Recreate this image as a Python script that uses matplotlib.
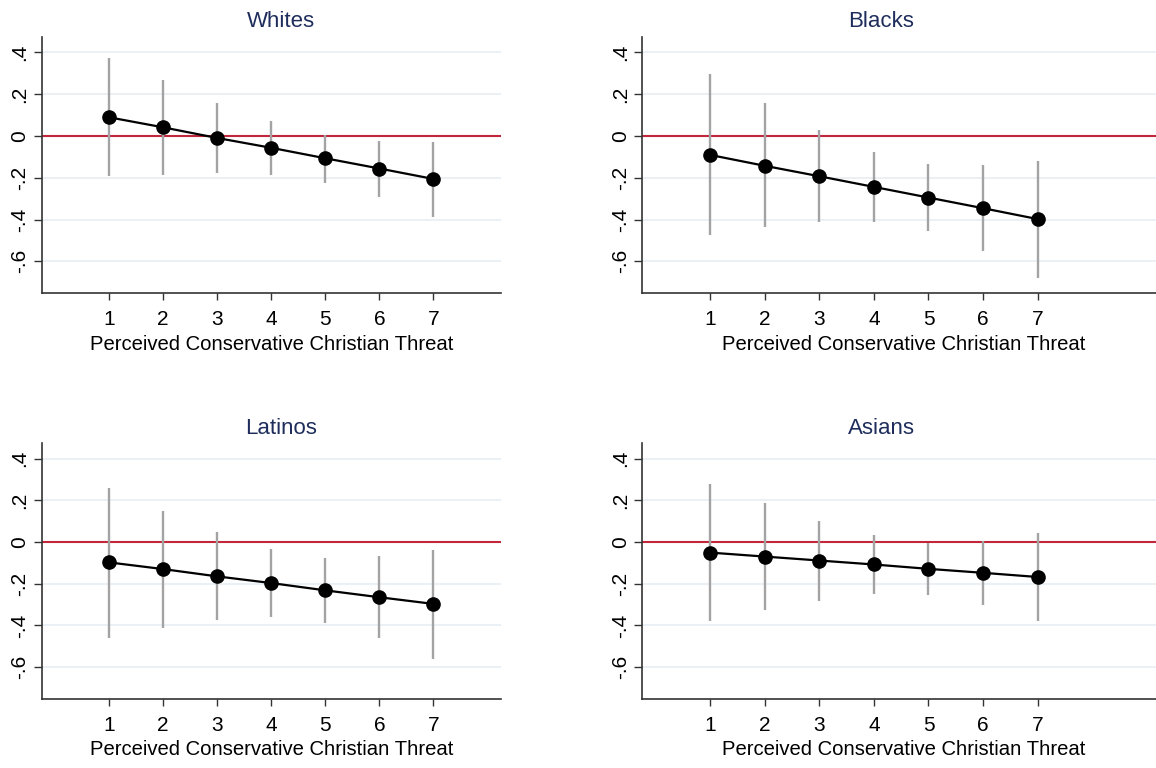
import numpy as np
import matplotlib.pyplot as plt

plt.rcParams['font.family'] = ['Liberation Sans', 'DejaVu Sans']

threat = [1, 2, 3, 4, 5, 6, 7]
groups = ['Whites', 'Blacks', 'Latinos', 'Asians']

whites_est = [0.089, 0.041, -0.010, -0.057, -0.107, -0.156, -0.206]
whites_hi = [0.371, 0.265, 0.159, 0.069, 0.005, -0.024, -0.029]
whites_lo = [-0.194, -0.185, -0.178, -0.185, -0.223, -0.290, -0.386]

blacks_est = [-0.091, -0.143, -0.193, -0.244, -0.295, -0.346, -0.398]
blacks_hi = [0.295, 0.156, 0.029, -0.078, -0.134, -0.139, -0.118]
blacks_lo = [-0.473, -0.438, -0.414, -0.413, -0.457, -0.553, -0.680]

latinos_est = [-0.098, -0.130, -0.165, -0.197, -0.232, -0.265, -0.297]
latinos_hi = [0.260, 0.149, 0.046, -0.035, -0.075, -0.067, -0.038]
latinos_lo = [-0.459, -0.414, -0.376, -0.360, -0.387, -0.460, -0.559]

asians_est = [-0.051, -0.070, -0.089, -0.108, -0.129, -0.148, -0.168]
asians_hi = [0.279, 0.187, 0.102, 0.032, -0.003, 0.006, 0.041]
asians_lo = [-0.379, -0.327, -0.281, -0.249, -0.252, -0.303, -0.379]

yticks = [-0.6, -0.4, -0.2, 0, 0.2, 0.4]
ytick_labels = ['-.6', '-.4', '-.2', '0', '.2', '.4']

panels = [
    (whites_est, whites_lo, whites_hi),
    (blacks_est, blacks_lo, blacks_hi),
    (latinos_est, latinos_lo, latinos_hi),
    (asians_est, asians_lo, asians_hi),
]

# axes boxes in figure fractions: left, bottom, width, height
# (right-hand panels run a little past the figure edge, as in the original crop)
boxes = [
    [0.0363, 0.6181, 0.3971, 0.3337],
    [0.5556, 0.6181, 0.4522, 0.3337],
    [0.0363, 0.0898, 0.3971, 0.3330],
    [0.5556, 0.0898, 0.4522, 0.3330],
]
xmax = [8.25, 9.33, 8.25, 9.33]
title_x = [0.52, 0.457, 0.52, 0.457]

fig = plt.figure(figsize=(11.56, 7.68), dpi=100)

for i, (est, lo, hi) in enumerate(panels):
    ax = fig.add_axes(boxes[i])
    ax.set_xlim(-0.24, xmax[i])
    ax.set_ylim(-0.753, 0.473)

    for y in yticks:
        ax.axhline(y, color='#e6edf1', lw=1.2, zorder=0)
    ax.axhline(0, color='#c1263a', lw=1.5, zorder=1)

    ax.vlines(threat, lo, hi, color='#a3a3a3', lw=1.7, zorder=2)
    ax.plot(threat, est, color='black', lw=1.6, marker='o', ms=9.5, zorder=3)

    ax.set_yticks(yticks)
    ax.set_yticklabels(ytick_labels, rotation=90, va='center')
    ax.set_xticks(threat)
    ax.tick_params(axis='both', labelsize=15, width=1, color='#333333')
    ax.tick_params(axis='x', length=5, pad=7)
    ax.tick_params(axis='y', length=6, pad=3)
    ax.set_xlabel('Perceived Conservative Christian Threat', fontsize=14.6, labelpad=4)
    ax.set_title(groups[i], fontsize=16, color='#1e2d5c', pad=7, x=title_x[i])

    for s in ['top', 'right']:
        ax.spines[s].set_visible(False)
    for s in ['left', 'bottom']:
        ax.spines[s].set_color('#333333')
        ax.spines[s].set_linewidth(1.2)

fig.savefig('out.png', dpi=100, facecolor='white')
